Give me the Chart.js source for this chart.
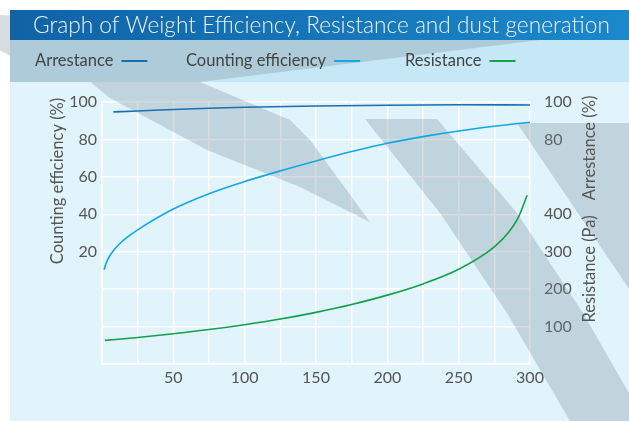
<!DOCTYPE html>
<html>
<head>
<meta charset="utf-8">
<title>Graph of Weight Efficiency, Resistance and dust generation</title>
<script src="https://cdn.jsdelivr.net/npm/chart.js@4.4.1/dist/chart.umd.min.js"></script>
<style>
  html, body { margin: 0; padding: 0; background: #fff; }
  #wrap { width: 629px; height: 421px; }
</style>
</head>
<body>
<div id="wrap"><canvas id="weight-chart" width="629" height="421"></canvas></div>
<script>
// dust fed on the x axis
const arrestanceX = [8, 25, 50, 75, 100, 150, 200, 250, 300];
const arrestance = [94.7, 95.2, 96.0, 96.7, 97.2, 97.9, 98.3, 98.5, 98.4];

const countingX = [1.5, 2.5, 4, 7, 12, 18, 25, 50, 75, 100, 125, 150, 175, 200, 225, 250, 275, 300];
const counting = [10.4, 13, 15.8, 19.6, 24, 27.9, 31.7, 42.8, 51, 57.5, 63.2, 68.5, 73.5, 78, 81.5, 84.5, 87, 89.2];

const resistanceX = [2, 25, 50, 75, 100, 125, 150, 175, 200, 225, 250, 275, 285, 292, 298];
const resistance = [63, 71, 81, 92, 105, 120, 138, 159, 184, 214, 253, 313, 352, 393, 451]; // Pa

// labels that are actually printed
const xTicks = [50, 100, 150, 200, 250, 300];
const efficiencyTicks = [20, 40, 60, 80, 100];
const arrestanceTicks = [80, 100];
const resistanceTicks = [100, 200, 300, 400];

const FONT = "Lato";
const TEXT = "#555";

function pts(xs, ys) {
  return xs.map((x, i) => ({ x: x, y: ys[i] }));
}

// percent axis runs -40..100, resistance axis 0..700 on the same grid
function pctToPa(v) {
  return Math.round((v + 40) * 5);
}

// grey diagonal "shadow" decoration of the original image
const shadows = [
  [[0, 15], [540, 40], [200, 82], [290, 120], [310, 140], [370, 222], [300, 187], [207, 150], [110, 98], [90, 82], [10, 82], [10, 56], [0, 50]],
  [[365, 119], [437, 119], [517, 213], [583, 313], [645, 421], [570, 421], [507, 313], [440, 213]],
  [[517, 123], [640, 123], [640, 305]],
];

const decor = {
  id: "decor",
  beforeDraw(chart) {
    const c = chart.ctx;
    c.save();
    c.fillStyle = "#fff";
    c.fillRect(0, 0, chart.width, chart.height);
    c.fillStyle = "#c6e7f6";
    c.fillRect(10, 40, chart.width - 10, 42);
    c.fillStyle = "#e1f3fb";
    c.fillRect(10, 82, chart.width - 10, chart.height - 82);
    c.restore();
  },
  beforeDatasetsDraw(chart) {
    const c = chart.ctx;
    c.save();
    c.fillStyle = "rgba(120, 140, 150, 0.3)";
    shadows.forEach((poly) => {
      c.beginPath();
      poly.forEach((p, i) => (i ? c.lineTo(p[0], p[1]) : c.moveTo(p[0], p[1])));
      c.closePath();
      c.fill();
    });
    c.restore();
  },
  afterDraw(chart) {
    const c = chart.ctx;
    c.save();
    // title band
    const g = c.createLinearGradient(10, 0, chart.width, 0);
    g.addColorStop(0, "#0f63a5");
    g.addColorStop(1, "#1b88cc");
    c.fillStyle = g;
    c.fillRect(10, 10, chart.width - 10, 30);

    const title = "Graph of Weight Efficiency, Resistance and dust generation";
    c.font = "300 24px " + FONT;
    const size = 24 * 577 / c.measureText(title).width;
    c.font = "300 " + size.toFixed(2) + "px " + FONT;
    c.fillStyle = "#eef3f7";
    c.textBaseline = "middle";
    c.textAlign = "left";
    c.fillText(title, 33, 26);

    // legend: text first, line after it
    const legendX = [35, 186, 405];
    c.font = "16.5px " + FONT;
    chart.data.datasets.forEach((ds, i) => {
      c.fillStyle = "#444";
      c.fillText(ds.label, legendX[i], 61);
      const end = legendX[i] + c.measureText(ds.label).width + 8;
      c.strokeStyle = ds.borderColor;
      c.lineWidth = 2;
      c.beginPath();
      c.moveTo(end, 61);
      c.lineTo(end + 26, 61);
      c.stroke();
    });

    // axis titles
    c.font = "16.5px " + FONT;
    c.fillStyle = TEXT;
    c.textAlign = "center";
    const vtext = (txt, x, y) => {
      c.save();
      c.translate(x, y);
      c.rotate(-Math.PI / 2);
      c.fillText(txt, 0, 0);
      c.restore();
    };
    vtext("Counting efficiency (%)", 58, 181);
    vtext("Arrestance (%)", 590, 148);
    vtext("Resistance (Pa)", 590, 269);
    c.restore();
  },
};

const grid = { color: "#fff", lineWidth: 1.5, drawTicks: false };
const border = { display: true, color: "#fff", width: 1.5 };

new Chart(document.getElementById("weight-chart"), {
  type: "line",
  data: {
    datasets: [
      {
        label: "Arrestance",
        data: pts(arrestanceX, arrestance),
        borderColor: "#1a6fb3",
        yAxisID: "y",
      },
      {
        label: "Counting efficiency",
        data: pts(countingX, counting),
        borderColor: "#12a7e2",
        yAxisID: "y",
      },
      {
        label: "Resistance",
        data: pts(resistanceX, resistance),
        borderColor: "#12a04c",
        yAxisID: "yRes",
      },
    ],
  },
  options: {
    responsive: false,
    animation: false,
    layout: { padding: { left: 10, top: 102, right: 0, bottom: 0 } },
    elements: {
      point: { radius: 0 },
      line: { borderWidth: 1.6, cubicInterpolationMode: "monotone", fill: false },
    },
    plugins: { legend: { display: false }, title: { display: false }, tooltip: { enabled: false } },
    scales: {
      x: {
        type: "linear",
        min: 0,
        max: 300,
        grid: grid,
        border: border,
        ticks: {
          stepSize: 25,
          autoSkip: false,
          maxRotation: 0,
          padding: 4,
          color: TEXT,
          font: { family: FONT, size: 16 },
          callback: (v) => (xTicks.includes(v) ? v : ""),
        },
        afterFit: (s) => { s.height = 57; },
      },
      y: {
        position: "left",
        min: -40,
        max: 100,
        grid: grid,
        border: border,
        ticks: {
          stepSize: 10,
          padding: 5,
          color: TEXT,
          font: { family: FONT, size: 16 },
          callback: (v) => (efficiencyTicks.includes(v) ? v : ""),
        },
        afterFit: (s) => { s.width = 92; },
      },
      yRight: {
        position: "right",
        min: -40,
        max: 100,
        grid: { display: false, drawTicks: false },
        border: { display: false },
        ticks: {
          stepSize: 10,
          padding: 14,
          color: TEXT,
          font: { family: FONT, size: 16 },
          callback: (v) => {
            if (arrestanceTicks.includes(v)) return v;
            const pa = pctToPa(v);
            return resistanceTicks.includes(pa) ? pa : "";
          },
        },
        afterFit: (s) => { s.width = 99; },
      },
      yRes: {
        display: false,
        position: "right",
        min: 0,
        max: 700,
      },
    },
  },
  plugins: [decor],
});
</script>
</body>
</html>
